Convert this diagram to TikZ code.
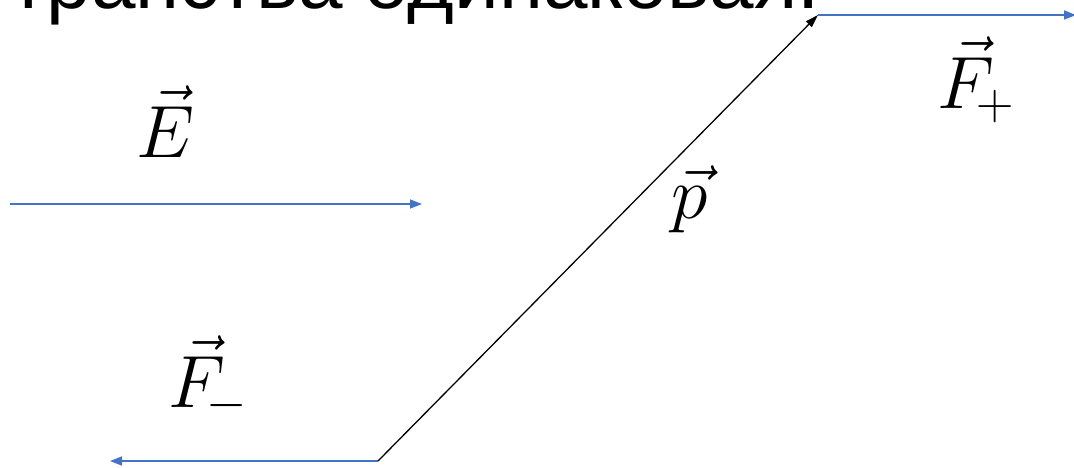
\RequirePackage{fix-cm}
\documentclass[tikz,border=0pt]{standalone}
\usepackage{fontspec}
\newfontfamily\headfont{Liberation Sans}
\usetikzlibrary{arrows.meta}
\definecolor{officeblue}{RGB}{68,114,196}
\tikzset{
  bluevec/.style={draw=officeblue, line width=1.6pt, -{Triangle[length=12pt,width=9pt]}},
  blackvec/.style={draw=black, line width=1.3pt, -{Triangle[length=13pt,width=8pt]}},
  veclabel/.style={inner sep=0pt, font=\fontsize{74}{80}\selectfont},
}
\begin{document}
\begin{tikzpicture}[x=1pt,y=-1pt]
\useasboundingbox (0,0) rectangle (1074,467);
\fill[white] (0,0) rectangle (1074,467);
% cut-off heading
\node[anchor=base east, inner sep=0pt, font=\headfont\fontsize{80}{96}\selectfont] (head) at (820,8.5) {транства одинаковая.};
% coordinates
\coordinate (e0) at (10,204);
\coordinate (e1) at (422,204);
\coordinate (pm) at (378,461);
\coordinate (pp) at (818,15);
\coordinate (fm) at (110,461);
\coordinate (fp) at (1076,15);
% vectors
\draw[bluevec] (e0) -- (e1);
\draw[bluevec] (pm) -- (fm);
\draw[bluevec] (pp) -- (fp);
\draw[blackvec] (pm) -- (pp);
% labels
\node[veclabel, anchor=base] (lE) at (165,157) {$\vec{E}$};
\node[veclabel, anchor=base] (lp) at (690,218) {$\vec{p}$};
\node[veclabel, anchor=base] (lFp) at (976,108) {$\vec{F}_{\!+}$};
\node[veclabel, anchor=base] (lFm) at (208,407) {$\vec{F}_{\!-}$};
\end{tikzpicture}
\end{document}
